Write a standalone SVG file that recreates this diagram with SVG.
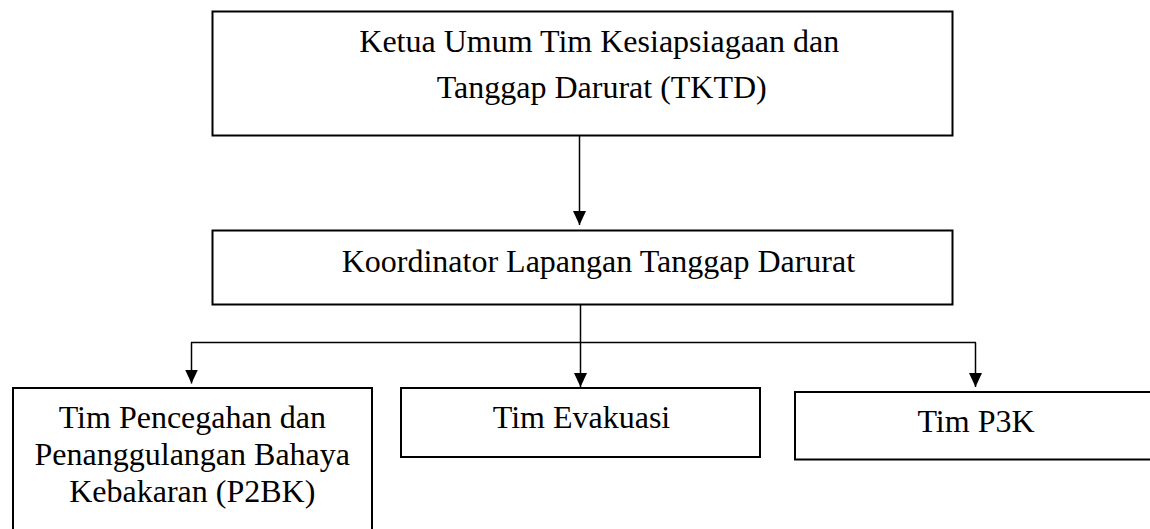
<svg xmlns="http://www.w3.org/2000/svg" width="1150" height="529" viewBox="0 0 1150 529">
<defs>
<style>
.box{fill:#fff;stroke:#000;stroke-width:2}
.t{font-family:"Liberation Serif","Times New Roman",serif;font-size:32px;fill:#000}
.c{fill:none;stroke:#000;stroke-width:1.5}
</style>
<marker id="ah" markerUnits="userSpaceOnUse" markerWidth="14" markerHeight="14" refX="14" refY="7" orient="auto">
<path d="M0,0.5 L14,7 L0,13.5 z" fill="#000"/>
</marker>
</defs>
<rect width="1150" height="529" fill="#fff"/>
<g id="connectors">
<line class="c" x1="579.5" y1="135.5" x2="579.5" y2="225" marker-end="url(#ah)"/>
<line class="c" x1="580.5" y1="304.5" x2="580.5" y2="342.5"/>
<line class="c" x1="191" y1="342.5" x2="976" y2="342.5"/>
<line class="c" x1="191.5" y1="342.5" x2="191.5" y2="383.5" marker-end="url(#ah)"/>
<line class="c" x1="580.5" y1="342.5" x2="580.5" y2="387" marker-end="url(#ah)"/>
<line class="c" x1="975.5" y1="342.5" x2="975.5" y2="387" marker-end="url(#ah)"/>
</g>
<g id="node-ketua">
<rect class="box" x="212.5" y="11.5" width="740" height="124"/>
<text class="t" x="359.3" y="52.3">Ketua Umum Tim Kesiapsiagaan dan</text>
<text class="t" x="436.7" y="98.3">Tanggap Darurat (TKTD)</text>
</g>
<g id="node-koordinator">
<rect class="box" x="212.5" y="230.5" width="740" height="74"/>
<text class="t" x="341.7" y="271.7">Koordinator Lapangan Tanggap Darurat</text>
</g>
<g id="node-p2bk">
<rect class="box" x="13" y="388" width="359" height="160"/>
<text class="t" x="192.3" y="428" text-anchor="middle">Tim Pencegahan dan</text>
<text class="t" x="192.3" y="465" text-anchor="middle">Penanggulangan Bahaya</text>
<text class="t" x="192.3" y="502" text-anchor="middle">Kebakaran (P2BK)</text>
</g>
<g id="node-evakuasi">
<rect class="box" x="401" y="388" width="359" height="69"/>
<text class="t" x="581.5" y="428" text-anchor="middle">Tim Evakuasi</text>
</g>
<g id="node-p3k">
<rect class="box" x="795" y="392" width="380" height="67.5"/>
<text class="t" x="976" y="431.7" text-anchor="middle">Tim P3K</text>
</g>
</svg>
